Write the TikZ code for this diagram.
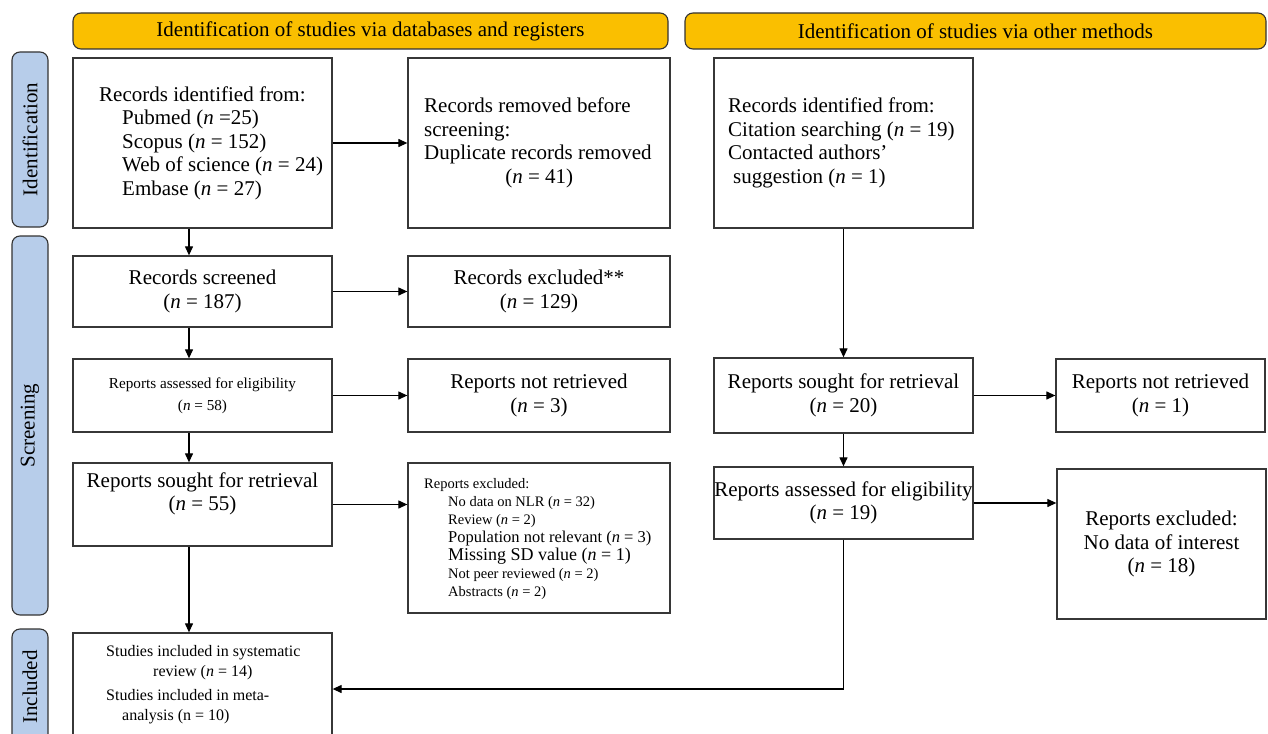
\documentclass[tikz,border=0pt]{standalone}
\usepackage{fontspec}
\setmainfont{Liberation Serif}
\usetikzlibrary{arrows.meta,calc}
\definecolor{hdr}{RGB}{250,191,0}
\definecolor{lbl}{RGB}{183,205,234}
\definecolor{bd}{RGB}{55,55,55}
\newcommand\fbig{\fontsize{21}{23.5}\selectfont}
\newcommand\fmid{\fontsize{15.2}{22}\selectfont}
\newcommand\fsm{\fontsize{14.5}{18}\selectfont}
\newcommand\fsmbig{\fontsize{18}{18}\selectfont}
\newcommand\fpop{\fontsize{16.5}{18}\selectfont}
\newcommand\finc{\fontsize{16}{20}\selectfont}
\newcommand\nn{\textit{n}}
\begin{document}
\begin{tikzpicture}[x=1pt,y=-1pt,
  box/.style={draw=bd, line width=1.3pt, inner sep=0pt, align=center, font=\fbig},
  header/.style={draw=black!80, line width=1.1pt, fill=hdr, rounded corners=8pt, inner sep=0pt, font=\fbig, minimum height=36pt},
  lab/.style={draw=black!80, line width=1.1pt, fill=lbl, rounded corners=8pt, inner sep=0pt, font=\fbig, minimum height=36pt, rotate=90},
  txt/.style={inner sep=0pt, align=left, anchor=west},
  arr/.style={-{Triangle[length=9pt,width=8pt]}, line width=1.2pt, draw=black}]
\useasboundingbox (0,0) rectangle (1268,733);
\clip (0,0) rectangle (1268,733);

% headers
\node[header, minimum width=595pt] (h1) at (370.5,31) {Identification of studies via databases and registers};
\node[header, minimum width=581pt] (h2) at (975.5,31) {Identification of studies via other methods};

% side labels
\node[lab, minimum width=175pt] (lid) at (30,139.5) {Identification};
\node[lab, minimum width=379pt] (lsc) at (30,425.5) {Screening};
\node[lab, minimum width=116pt] (lin) at (30,687) {Included};

% left column boxes
\node[box, minimum width=259pt, minimum height=170pt] (A) at (202.5,143) {};
\node[txt, font=\fbig] (At) at (99,143) {Records identified from:\\
  \hspace*{23pt}Pubmed (\nn{} =25)\\
  \hspace*{23pt}Scopus (\nn{} = 152)\\
  \hspace*{23pt}Web of science (\nn{} = 24)\\
  \hspace*{23pt}Embase (\nn{} = 27)};

\node[box, minimum width=262pt, minimum height=170pt] (B) at (539,143) {};
\node[txt, font=\fbig] (Bt) at (424,143) {Records removed before\\
  screening:\\
  Duplicate records removed\\
  \makebox[230pt][c]{(\nn{} = 41)}};

\node[box, minimum width=259pt, minimum height=71pt] (C) at (202.5,291.5) {Records screened\\(\nn{} = 187)};
\node[box, minimum width=262pt, minimum height=71pt] (D) at (539,291.5) {Records excluded**\\(\nn{} = 129)};

\node[box, minimum width=259pt, minimum height=73pt, font=\fmid] (E) at (202.5,395.5) {Reports assessed for eligibility\\(\nn{} = 58)};
\node[box, minimum width=262pt, minimum height=73pt] (F) at (539,395.5) {Reports not retrieved\\(\nn{} = 3)};

\node[box, minimum width=259pt, minimum height=83pt] (G) at (202.5,504.5) {};
\node[inner sep=0pt, align=center, font=\fbig] (Gt) at (202.5,494) {Reports sought for retrieval\\(\nn{} = 55)};

\node[box, minimum width=262pt, minimum height=150pt] (H) at (539,538) {};
\node[txt, font=\fsm] (Ht) at (424,539) {Reports excluded:\\
  \hspace*{24pt}No data on NLR (\nn{} = 32)\\
  \hspace*{24pt}Review (\nn{} = 2)\\
  \hspace*{24pt}{\fpop Population not relevant (\nn{} = 3)}\\
  \hspace*{24pt}{\fsmbig Missing SD value (\nn{} = 1)}\\
  \hspace*{24pt}Not peer reviewed (\nn{} = 2)\\
  \hspace*{24pt}Abstracts (\nn{} = 2)};

\node[box, minimum width=259pt, minimum height=112pt] (I) at (202.5,689) {};
\node[txt, font=\finc] (It) at (106,685) {Studies included in systematic\\
  \hspace*{47pt}review (\nn{} = 14)\\[4pt]
  Studies included in meta-\\
  \hspace*{16pt}analysis (n = 10)};

% right column boxes
\node[box, minimum width=259pt, minimum height=170pt] (J) at (843.5,143) {};
\node[txt, font=\fbig] (Jt) at (728,143) {Records identified from:\\
  Citation searching (\nn{} = 19)\\
  Contacted authors’\\
  \hspace*{5pt}suggestion (\nn{} = 1)};

\node[box, minimum width=259pt, minimum height=75pt] (K) at (843.5,395.5) {Reports sought for retrieval\\(\nn{} = 20)};
\node[box, minimum width=209pt, minimum height=73pt] (L) at (1160.5,395.5) {Reports not retrieved\\(\nn{} = 1)};

\node[box, minimum width=259pt, minimum height=72pt] (M) at (843.5,503) {Reports assessed for eligibility\\(\nn{} = 19)};
\node[box, minimum width=209pt, minimum height=150pt] (N) at (1161.5,544) {Reports excluded:\\No data of interest\\(\nn{} = 18)};

% connectors
\coordinate (colL) at (189,0);
\draw[arr] (A.south -| colL) -- (C.north -| colL);
\draw[arr] (C.south -| colL) -- (E.north -| colL);
\draw[arr] (E.south -| colL) -- (G.north -| colL);
\draw[arr] (G.south -| colL) -- (I.north -| colL);
\draw[arr] (A.east) -- (B.west);
\draw[arr] (C.east) -- (D.west);
\draw[arr] (E.east) -- (F.west);
\draw[arr] (G.east) -- (G.east -| H.west);
\draw[arr] (J.south) -- (K.north);
\draw[arr] (K.east) -- (L.west);
\draw[arr] (K.south) -- (M.north);
\draw[arr] (M.east) -- (M.east -| N.west);
\draw[arr] (M.south) |- (I.east);
\end{tikzpicture}
\end{document}
